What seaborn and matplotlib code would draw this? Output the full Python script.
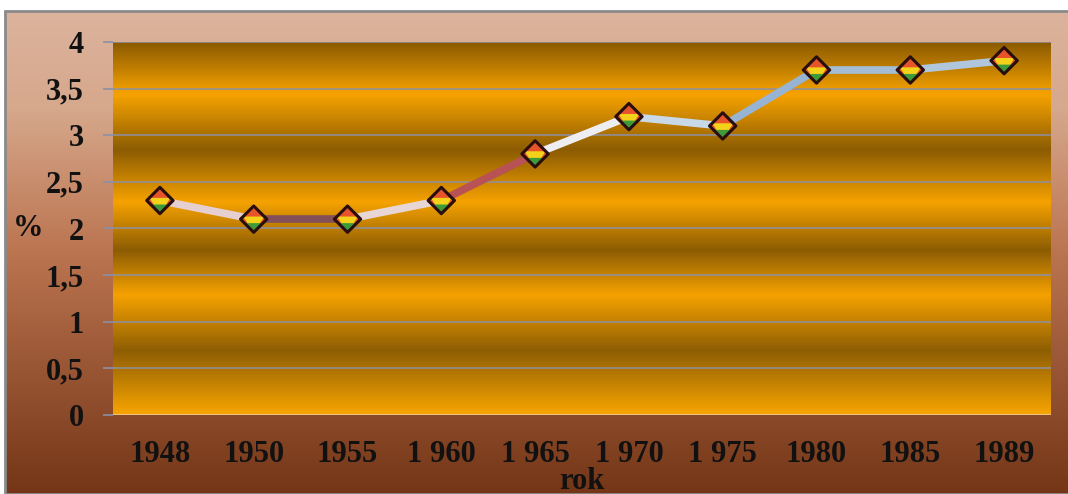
import numpy as np
import pandas as pd
import matplotlib
matplotlib.use("Agg")
import matplotlib.pyplot as plt
from matplotlib.path import Path
from matplotlib.colors import LinearSegmentedColormap
from matplotlib.patches import Rectangle
import seaborn as sns

# data
years = ["1948", "1950", "1955", "1 960", "1 965", "1 970", "1 975", "1980", "1985", "1989"]
values = [2.3, 2.1, 2.1, 2.3, 2.8, 3.2, 3.1, 3.7, 3.7, 3.8]
y_ticks = [0, 0.5, 1, 1.5, 2, 2.5, 3, 3.5, 4]
y_tick_labels = ["0", "0,5", "1", "1,5", "2", "2,5", "3", "3,5", "4"]

# colours of each line piece (the original line is drawn with a gradient)
seg_colors = ["#e6cfd0", "#83505a", "#e8d6d6", "#b85254", "#eeeef2",
              "#c8d8e6", "#98b4d4", "#a4bcd6", "#b0c6dc"]

df = pd.DataFrame({"pos": np.arange(len(years)), "val": values})

sns.set_style("white")
plt.rcParams["font.family"] = ["Liberation Serif", "DejaVu Serif"]
plt.rcParams["font.weight"] = "bold"

fig = plt.figure(figsize=(10.68, 4.94), dpi=100, facecolor="white")

# background of the chart frame: vertical gradient peach -> brown
bg = fig.add_axes([6 / 1068, 0, 1 - 6 / 1068, 1 - 12 / 494])
bg_cmap = LinearSegmentedColormap.from_list(
    "bg", [(0, "#dcb39d"), (0.2, "#d6a88c"), (0.5, "#bb7450"), (1, "#743617")])
bg.imshow(np.linspace(0, 1, 256).reshape(-1, 1), aspect="auto", cmap=bg_cmap,
          extent=[0, 1, 0, 1], origin="upper")
bg.set_axis_off()
fig.add_artist(Rectangle((5 / 1068, 0), 1, 1 - 11 / 494, transform=fig.transFigure,
                         fill=False, edgecolor="#8a8a8a", linewidth=2))

ax = fig.add_axes([113 / 1068, 1 - 415 / 494, (1051 - 113) / 1068, (415 - 42) / 494])

# banded orange plot area
band_cmap = LinearSegmentedColormap.from_list(
    "band", [(0, "#8a5a02"), (0.14, "#f7a300"), (0.29, "#8c5c03"), (0.43, "#f5a200"),
             (0.56, "#8c5c03"), (0.68, "#f5a200"), (0.83, "#8e5e04"), (1, "#f7a400")])
ax.imshow(np.linspace(0, 1, 400).reshape(-1, 1), aspect="auto", cmap=band_cmap,
          extent=[0, 1, 0, 1], origin="upper", transform=ax.transAxes, zorder=0)

ax.set_xlim(-0.5, len(years) - 0.5)
ax.set_ylim(0, 4)

for yv in y_ticks[1:]:
    ax.axhline(yv, color="#8e90a4", linewidth=1.1, zorder=1)
ax.axhline(0, color="#eec27a", linewidth=1.5, zorder=1)

# the line, piece by piece
for i in range(len(years) - 1):
    sns.lineplot(data=df.iloc[i:i + 2], x="pos", y="val", ax=ax, color=seg_colors[i],
                 linewidth=5.5, solid_capstyle="round", zorder=3)

# rainbow diamond markers built in layers
diamond = Path([(0, 1), (1, 0), (0, -1), (-1, 0), (0, 1)],
               [Path.MOVETO, Path.LINETO, Path.LINETO, Path.LINETO, Path.CLOSEPOLY])
lower = Path([(-0.8, 0.2), (0.8, 0.2), (0, -1), (-0.8, 0.2)],
             [Path.MOVETO, Path.LINETO, Path.LINETO, Path.CLOSEPOLY])
bottom = Path([(-0.7, -0.3), (0.7, -0.3), (0, -1), (-0.7, -0.3)],
              [Path.MOVETO, Path.LINETO, Path.LINETO, Path.CLOSEPOLY])
ms = 19
sns.scatterplot(data=df, x="pos", y="val", ax=ax, marker=diamond, s=ms ** 2,
                color="#e8542a", edgecolor="none", zorder=4)
sns.scatterplot(data=df, x="pos", y="val", ax=ax, marker=lower, s=ms ** 2,
                color="#f4d21a", edgecolor="none", zorder=5)
sns.scatterplot(data=df, x="pos", y="val", ax=ax, marker=bottom, s=ms ** 2,
                color="#3f9a3a", edgecolor="none", zorder=6)
sns.scatterplot(data=df, x="pos", y="val", ax=ax, marker=diamond, s=ms ** 2,
                facecolor="none", edgecolor="#2a0e0e", linewidth=2.2, zorder=7)

# axes and ticks
for sp in ax.spines.values():
    sp.set_visible(False)
ax.set_yticks(y_ticks)
ax.set_yticklabels(y_tick_labels)
ax.set_xticks(np.arange(len(years)))
ax.set_xticklabels(years)
ax.set_xticks(np.arange(len(years) + 1) - 0.5, minor=True)
ax.tick_params(axis="x", which="major", length=0, pad=18, labelsize=22)
ax.tick_params(axis="x", which="minor", length=6, width=1.2, color="#e8d0c0", direction="out")
ax.tick_params(axis="y", length=7, width=1.2, color="#8a90a8", pad=14, labelsize=22, left=True)
for lab in ax.get_xticklabels() + ax.get_yticklabels():
    lab.set_fontweight("bold")
    lab.set_color("#111111")

ax.set_xlabel("rok", fontsize=22, fontweight="bold", color="#111111")
ax.xaxis.set_label_coords(0.5, -52 / 373)
ax.set_ylabel("%", fontsize=22, fontweight="bold", color="#111111", rotation=0,
              labelpad=0, va="center")
ax.yaxis.set_label_coords(-85 / 938, 0.5)
ax.set_title("")

fig.savefig("out.png", dpi=100, facecolor="white")
